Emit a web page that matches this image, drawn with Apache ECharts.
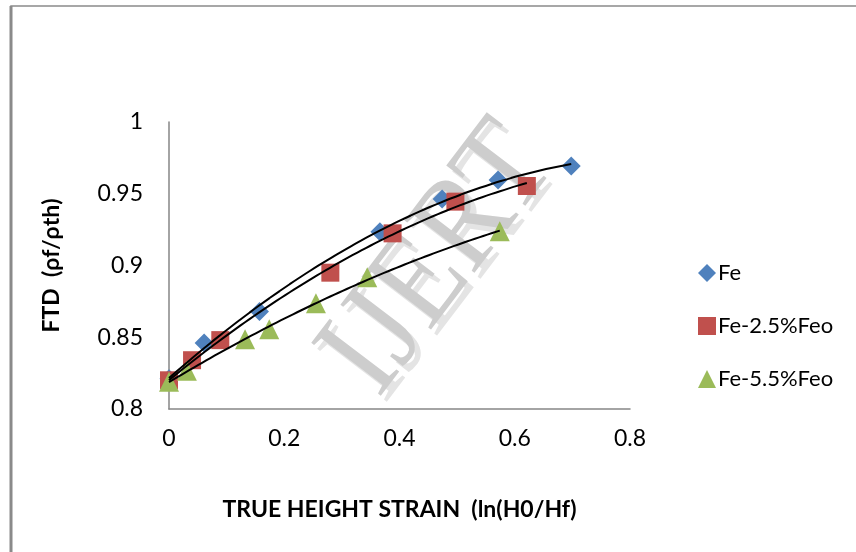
<!DOCTYPE html>
<html>
<head>
    <meta charset="utf-8">
    <title>FTD vs true height strain</title>
    <script src="https://cdn.jsdelivr.net/npm/echarts@6/dist/echarts.min.js"></script>
    <style>
        body { margin: 0; background: #fff; }
        #chart { width: 856px; height: 552px; }
    </style>
</head>
<body>
    <div id="chart"></div>

    <script type="text/javascript">
        // values
        var seriesNames = ["Fe", "Fe-2.5%Feo", "Fe-5.5%Feo"];
        var feX = [0, 0.061, 0.157, 0.366, 0.474, 0.571, 0.698];
        var feY = [0.821, 0.846, 0.868, 0.9236, 0.9463, 0.9596, 0.9693];
        var fe25X = [0, 0.040, 0.089, 0.280, 0.388, 0.497, 0.621];
        var fe25Y = [0.820, 0.834, 0.848, 0.895, 0.9224, 0.9445, 0.9554];
        var fe55X = [0, 0.031, 0.132, 0.174, 0.255, 0.344, 0.574];
        var fe55Y = [0.819, 0.8267, 0.8486, 0.8555, 0.8737, 0.8918, 0.9238];
        var xTicks = [0, 0.2, 0.4, 0.6, 0.8];
        var yTicks = [0.8, 0.85, 0.9, 0.95, 1];

        var colors = ["#4F81BD", "#C0504D", "#9BBB59"];
        var symbols = ["diamond", "rect", "triangle"];
        var sizes = [19, 18, 20];
        var font = "Lato";

        function pairs(xs, ys) {
            var out = [];
            for (var i = 0; i < xs.length; i++) out.push([xs[i], ys[i]]);
            return out;
        }

        // 2nd order least-squares fit, same as the spreadsheet's poly trendline
        function polyFit(xs, ys) {
            var n = xs.length, s = [0, 0, 0, 0, 0], t = [0, 0, 0];
            for (var i = 0; i < n; i++) {
                var p = 1;
                for (var k = 0; k < 5; k++) { s[k] += p; if (k < 3) t[k] += p * ys[i]; p *= xs[i]; }
            }
            var m = [[s[0], s[1], s[2], t[0]], [s[1], s[2], s[3], t[1]], [s[2], s[3], s[4], t[2]]];
            for (var c = 0; c < 3; c++) {
                for (var r = c + 1; r < 3; r++) {
                    var f = m[r][c] / m[c][c];
                    for (var j = c; j < 4; j++) m[r][j] -= f * m[c][j];
                }
            }
            var a = [0, 0, 0];
            for (var r2 = 2; r2 >= 0; r2--) {
                var v = m[r2][3];
                for (var j2 = r2 + 1; j2 < 3; j2++) v -= m[r2][j2] * a[j2];
                a[r2] = v / m[r2][r2];
            }
            return a;
        }

        function trend(xs, ys) {
            var a = polyFit(xs, ys);
            var lo = Math.min.apply(null, xs), hi = Math.max.apply(null, xs);
            var out = [];
            for (var i = 0; i <= 40; i++) {
                var x = lo + (hi - lo) * i / 40;
                out.push([x, a[0] + a[1] * x + a[2] * x * x]);
            }
            return out;
        }

        var xsList = [feX, fe25X, fe55X];
        var ysList = [feY, fe25Y, fe55Y];
        var series = [];
        for (var i = 0; i < 3; i++) {
            series.push({
                name: seriesNames[i],
                type: "scatter",
                data: pairs(xsList[i], ysList[i]),
                symbol: symbols[i],
                symbolSize: sizes[i],
                itemStyle: { color: colors[i], opacity: 1 },
                z: 2
            });
        }
        for (var i2 = 0; i2 < 3; i2++) {
            series.push({
                name: seriesNames[i2] + " trend",
                type: "line",
                data: trend(xsList[i2], ysList[i2]),
                showSymbol: false,
                smooth: true,
                lineStyle: { color: "#000", width: 2 },
                z: 3,
                silent: true
            });
        }

        var myChart = echarts.init(document.getElementById("chart"));
        var option = {
            animation: false,
            backgroundColor: "#fff",
            grid: { left: 169, right: 226, top: 122, bottom: 143 },
            xAxis: {
                type: "value",
                min: xTicks[0], max: xTicks[xTicks.length - 1], interval: 0.2,
                axisLine: { lineStyle: { color: "#868686", width: 1.5 } },
                axisTick: { show: false },
                splitLine: { show: false },
                axisLabel: { color: "#000", fontFamily: font, fontSize: 23, margin: 18 },
                name: "TRUE HEIGHT STRAIN  (ln(H0/Hf)",
                nameLocation: "middle",
                nameGap: 89,
                nameTextStyle: { color: "#000", fontFamily: font, fontSize: 23, fontWeight: "bold" }
            },
            yAxis: {
                type: "value",
                min: yTicks[0], max: yTicks[yTicks.length - 1], interval: 0.05,
                axisLine: { show: true, lineStyle: { color: "#868686", width: 1.5 } },
                axisTick: { show: false },
                splitLine: { show: false },
                axisLabel: { color: "#000", fontFamily: font, fontSize: 23, margin: 26 },
                name: "FTD  (\u03c1f/\u03c1th)",
                nameLocation: "middle",
                nameGap: 106,
                nameTextStyle: { color: "#000", fontFamily: font, fontSize: 23, fontWeight: "bold" }
            },
            legend: {
                data: seriesNames.map(function (n, k) { return { name: n, icon: symbols[k] }; }),
                orient: "vertical",
                left: 693,
                top: 257,
                itemWidth: 18,
                itemHeight: 18,
                itemGap: 31,
                textStyle: { color: "#000", fontFamily: font, fontSize: 22, padding: [0, 0, 0, -3] }
            },
            graphic: [
                { type: "rect", shape: { x: 11, y: 6, width: 900, height: 600 },
                  style: { fill: "none", stroke: "#8a8a8a", lineWidth: 1.5 }, z: -10 },
                { type: "line", shape: { x1: 11, y1: 6, x2: 11, y2: 552 },
                  style: { stroke: "#8a8a8a", lineWidth: 3 }, z: -10 },
                { type: "text", x: 446, y: 266, rotation: 0.92, scaleY: 1.15, z: -5,
                  style: { text: "IJERT", font: "116px 'Liberation Serif'", fill: "#e4e4e4",
                           textAlign: "center", textVerticalAlign: "middle" } },
                { type: "text", x: 440, y: 260, rotation: 0.92, scaleY: 1.15, z: -4,
                  style: { text: "IJERT", font: "116px 'Liberation Serif'", fill: "#cdcdcd",
                           textAlign: "center", textVerticalAlign: "middle" } }
            ],
            series: series
        };
        myChart.setOption(option);
    </script>
</body>
</html>
